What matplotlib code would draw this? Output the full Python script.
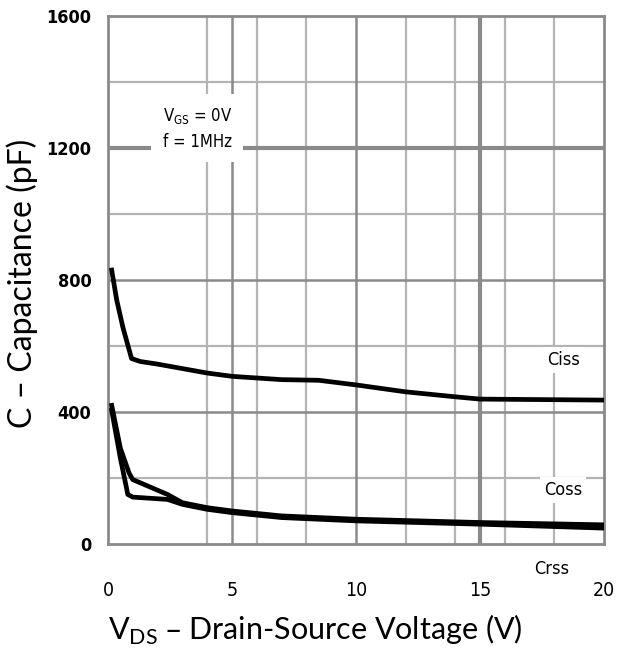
import matplotlib
matplotlib.use("Agg")
import matplotlib.pyplot as plt

# Capacitance vs drain-source voltage
ciss_v = [0.15, 0.35, 0.6, 0.95, 1.3, 2.0, 4.0, 5.0, 7.0, 8.5, 10.0, 12.0, 14.0, 15.0, 20.0]
ciss_c = [830, 740, 657, 562, 553, 545, 518, 508, 498, 496, 482, 461, 446, 439, 436]

coss_v = [0.15, 0.5, 0.85, 1.0, 2.4, 3.0, 4.0, 5.0, 7.0, 10.0, 15.0, 20.0]
coss_c = [420, 290, 215, 195, 150, 125, 110, 100, 85, 75, 65, 58]

crss_v = [0.15, 0.5, 0.8, 1.0, 2.4, 3.0, 4.0, 5.0, 7.0, 10.0, 15.0, 20.0]
crss_c = [405, 260, 150, 142, 135, 120, 105, 95, 80, 70, 60, 48]

x_ticks = [0, 5, 10, 15, 20]
y_ticks = [0, 400, 800, 1200, 1600]
x_major = [5, 10, 15]
x_minor = [4, 6, 8, 12, 14, 16, 18]
y_major = [400, 800, 1200]
y_minor = [200, 600, 1000, 1400]

DARK = "#8a8a8a"
LIGHT = "#b4b4b4"
NARROW = dict(family="DejaVu Sans", fontstretch="condensed")

fig = plt.figure(figsize=(6.17, 6.58), dpi=100)
ax = fig.add_axes([0.175, 0.1733, 0.804, 0.8024])
ax.set_xlim(0, 20)
ax.set_ylim(0, 1600)

# grid, drawn by hand because the spacing is irregular
for xv in x_minor:
    ax.axvline(xv, color=LIGHT, lw=1.6, zorder=1)
for yv in y_minor:
    ax.axhline(yv, color=LIGHT, lw=1.6, zorder=1)
for xv in x_major:
    ax.axvline(xv, color=DARK, lw=3.0 if xv == 15 else 1.8, zorder=1)
for yv in y_major:
    ax.axhline(yv, color=DARK, lw=3.0 if yv == 1200 else 1.8, zorder=1)

for s in ax.spines.values():
    s.set_color(DARK)
    s.set_linewidth(2)

ax.plot(ciss_v, ciss_c, color="black", lw=3.4, solid_joinstyle="round", zorder=3)
ax.plot(coss_v, coss_c, color="black", lw=3.4, solid_joinstyle="round", zorder=3)
ax.plot(crss_v, crss_c, color="black", lw=3.4, solid_joinstyle="round", zorder=3)

# condition box masking the grid
ax.text(3.6, 1260, "V$_{\\mathregular{GS}}$ = 0V\nf = 1MHz",
        fontsize=12, ha="center", va="center", linespacing=1.5, zorder=4,
        bbox=dict(facecolor="white", edgecolor="none", pad=8), **NARROW)

lbl = dict(fontsize=13, ha="center", va="center", zorder=4, **NARROW)
ax.text(18.35, 557, "Ciss", bbox=dict(facecolor="white", edgecolor="none", pad=3), **lbl)
ax.text(18.35, 164, "Coss", bbox=dict(facecolor="white", edgecolor="none", pad=3), **lbl)
ax.text(17.9, -75, "Crss", clip_on=False, **lbl)

ax.set_xticks(x_ticks)
ax.set_yticks(y_ticks)
ax.set_xticklabels([str(v) for v in x_ticks], fontsize=14, **NARROW)
ax.set_yticklabels([str(v) for v in y_ticks], fontsize=13, fontweight="bold", **NARROW)
ax.tick_params(length=0)
ax.tick_params(axis="y", pad=12)
ax.tick_params(axis="x", pad=27)

ax.set_xlabel("V$_{\\mathregular{DS}}$ – Drain-Source Voltage (V)", family="Lato",
              fontsize=22, labelpad=9, x=0.417)
ax.set_ylabel("C – Capacitance (pF)", family="Lato", fontsize=23)
ax.yaxis.set_label_coords(-0.142, 0.494)

fig.savefig("out.png", dpi=100, facecolor="white")
